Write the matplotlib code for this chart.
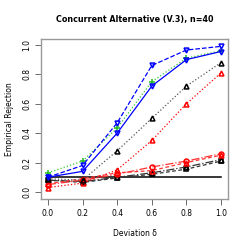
"""
Empirical rejection rates under the concurrent alternative (V.3), n=40
"""

import matplotlib.pyplot as plt

#---------------------------------------------------------------------------------------------------
# Input data
#---------------------------------------------------------------------------------------------------

delta = [0.0, 0.2, 0.4, 0.6, 0.8, 1.0]
nominal = [0.1, 0.1, 0.1, 0.1, 0.1, 0.1]

blue_solid = [0.10, 0.14, 0.40, 0.72, 0.90, 0.955]
blue_dash = [0.10, 0.18, 0.47, 0.86, 0.965, 0.99]
green_dot = [0.13, 0.21, 0.435, 0.75, 0.91, 0.96]
black_dot = [0.09, 0.08, 0.28, 0.50, 0.72, 0.88]
red_dot = [0.03, 0.06, 0.15, 0.35, 0.60, 0.81]
red_dash = [0.055, 0.09, 0.13, 0.145, 0.20, 0.25]
red_dashdot = [0.05, 0.08, 0.12, 0.17, 0.21, 0.26]
black_dash = [0.08, 0.065, 0.095, 0.12, 0.155, 0.21]
black_dashdot = [0.08, 0.07, 0.10, 0.13, 0.17, 0.22]

xticks = [0.0, 0.2, 0.4, 0.6, 0.8, 1.0]
yticks = [0.0, 0.2, 0.4, 0.6, 0.8, 1.0]

#---------------------------------------------------------------------------------------------------
# Plot
#---------------------------------------------------------------------------------------------------

fontsize = 5.5
fig, ax = plt.subplots(figsize=(2.5, 2.5), dpi=100)
plt.subplots_adjust(left=0.164, right=0.912, bottom=0.204, top=0.844)

ms = 3.5
ax.plot(delta, nominal, '-', c='k', lw=1.1)
ax.plot(delta, black_dash, ls=(0, (3, 2)), c='#333333', lw=0.9, marker='s', ms=ms, mfc='none', mec='k', mew=1.1)
ax.plot(delta, black_dashdot, ls='-.', c='#333333', lw=0.9, marker='^', ms=ms, mfc='none', mec='k', mew=1.1)
ax.plot(delta, red_dash, ls=(0, (3, 2)), c='#ff3333', lw=0.9, marker='^', ms=ms, mfc='none', mec='red', mew=1.1)
ax.plot(delta, red_dashdot, ls='-.', c='#ff3333', lw=0.9, marker='o', ms=ms, mfc='none', mec='red', mew=1.1)
ax.plot(delta, red_dot, ls=':', c='red', lw=0.9, marker='^', ms=ms, mfc='none', mec='red', mew=1.1)
ax.plot(delta, black_dot, ls=':', c='#555555', lw=0.9, marker='^', ms=ms, mfc='none', mec='k', mew=1.1)
ax.plot(delta, green_dot, ls=':', c='#33cc33', lw=0.9, marker='+', ms=5, mec='#22bb22', mew=1.1)
ax.plot(delta, blue_dash, ls='--', c='blue', lw=0.9, marker='v', ms=ms, mfc='none', mec='blue', mew=1.1)
ax.plot(delta, blue_solid, ls='-', c='blue', lw=0.9, marker='v', ms=ms, mfc='none', mec='blue', mew=1.1)

# Formatting
ax.set_xlim(-0.04, 1.04)
ax.set_ylim(-0.048, 1.04)
ax.set_xticks(xticks)
ax.set_yticks(yticks)
ax.set_xticklabels([f"{t:.1f}" for t in xticks])
ax.set_yticklabels([f"{t:.1f}" for t in yticks], rotation=90, va='center')
ax.tick_params(axis='both', which='major', labelsize=fontsize, length=4, width=0.6,
               color='#555555', pad=3)
for s in ax.spines.values():
    s.set_color('#999999')
    s.set_linewidth(1.0)

ax.set_xlabel('Deviation δ', size=fontsize, labelpad=8)
ax.set_ylabel('Empirical Rejection', size=fontsize, labelpad=6)
ax.set_title('Concurrent Alternative (V.3), n=40', size=5.8, weight='bold', pad=12)

plt.savefig('out.png', dpi=100)
plt.close()
